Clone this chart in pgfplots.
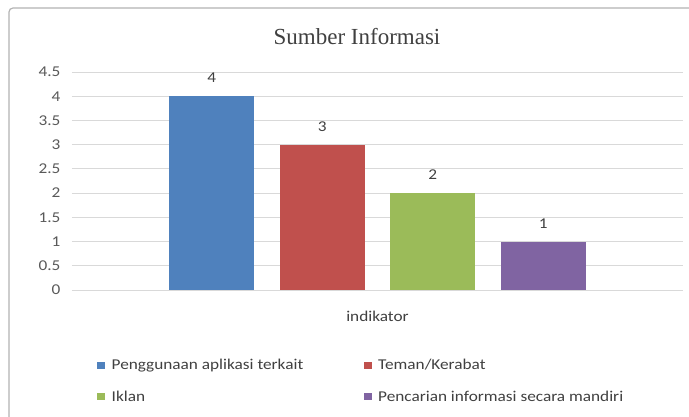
\documentclass[border=0pt]{standalone}
\usepackage{pgfplots}
\pgfplotsset{compat=1.18}
\usepackage{fontspec}
\setmainfont[FakeStretch=1.15]{Carlito}
\newfontfamily\titlefont{Liberation Serif}
\definecolor{cblue}{HTML}{4F81BD}
\definecolor{cred}{HTML}{C0504D}
\definecolor{cgreen}{HTML}{9BBB59}
\definecolor{cpurple}{HTML}{8064A2}
\definecolor{txt}{HTML}{595959}
\definecolor{dtxt}{HTML}{404040}
\begin{document}
\begin{tikzpicture}
\useasboundingbox (0pt,0pt) rectangle (689pt,417pt);
\begin{scope}
\clip (0pt,0pt) rectangle (689pt,417pt);
\draw[black!30, line width=1.2pt, rounded corners=4pt] (9pt,-20pt) rectangle (720pt,409pt);
\end{scope}
\node[font=\titlefont\fontsize{23}{26}\selectfont, text=dtxt] at (357pt,380pt) {Sumber Informasi};
\begin{axis}[
  at={(72pt,127pt)}, anchor=south west,
  scale only axis, width=611pt, height=218pt,
  xmin=-1, xmax=1, ymin=0, ymax=4.5,
  /pgf/number format/assume math mode=true,
  ytick={0,0.5,1,1.5,2,2.5,3,3.5,4,4.5},
  yticklabels={0,0.5,1,1.5,2,2.5,3,3.5,4,4.5},
  xtick={0}, xticklabels={indikator},
  xticklabel style={yshift=-18pt, font=\fontsize{15}{17}\selectfont, text=dtxt},
  yticklabel style={font=\fontsize{15}{17}\selectfont, text=txt, xshift=-8pt},
  major tick length=0pt,
  axis line style={draw=none},
  ymajorgrids, grid style={black!15, line width=0.8pt},
  ybar=25.5pt, bar width=85pt,
  nodes near coords,
  nodes near coords style={font=\fontsize{15}{17}\selectfont, text=dtxt, yshift=10pt},
  legend style={at={(0.0409,-0.307)}, anchor=north west, draw=none, fill=none,
    legend columns=2, font=\fontsize{15}{17}\selectfont, text=dtxt,
    row sep=16pt, inner sep=0pt,
    /tikz/every odd column/.append style={column sep=4.5pt}},
  legend cell align=left,
  legend image code/.code={\fill[#1,draw=none] (0pt,-3.5pt) rectangle (8pt,3.5pt);},
]
\addplot[fill=cblue, draw=none] coordinates {(0,4)};
\addplot[fill=cred, draw=none] coordinates {(0,3)};
\addplot[fill=cgreen, draw=none] coordinates {(0,2)};
\addplot[fill=cpurple, draw=none] coordinates {(0,1)};
\legend{\makebox[250pt][l]{Penggunaan aplikasi terkait},Teman/Kerabat,\makebox[250pt][l]{Iklan},Pencarian informasi secara mandiri}
\end{axis}
\end{tikzpicture}
\end{document}
